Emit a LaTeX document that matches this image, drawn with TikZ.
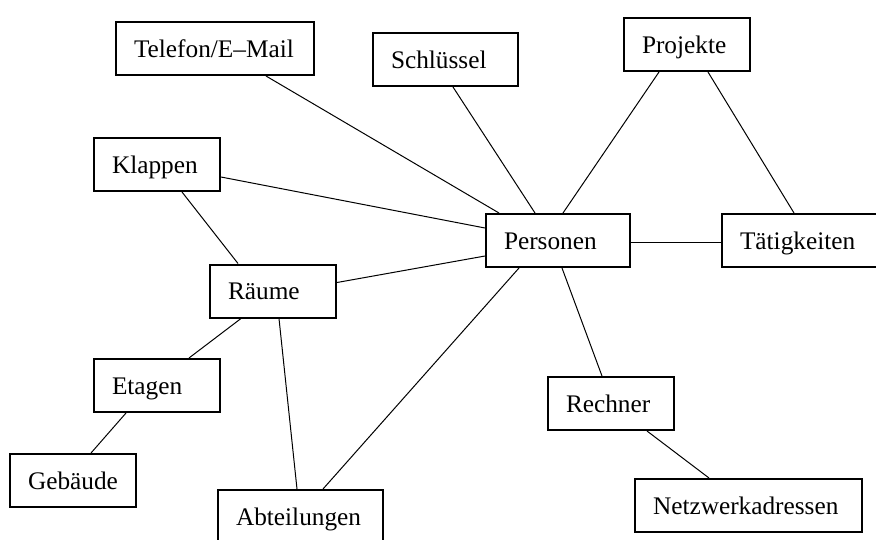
\documentclass[tikz,border=0pt]{standalone}
\usepackage{fontspec}
\setmainfont{Liberation Serif}
\usetikzlibrary{calc}
\begin{document}
\begin{tikzpicture}[x=1pt,y=-1pt,
  ent/.style={draw, line width=2pt, rectangle, minimum height=53pt, inner ysep=0pt,
    inner xsep=18pt, align=left, text height=18pt, text depth=1pt,
    font=\fontsize{25.3}{30}\selectfont},
  conn/.style={line width=1pt}]
\useasboundingbox (0,0) rectangle (876,539);
\clip (0,0) rectangle (876,539);
\fill[white] (0,0) rectangle (876,539);
\node[ent, text width=162pt] (tel) at (215,48.5) {Telefon/E--Mail};
\node[ent, text width=109pt] (sch) at (445.5,59.5) {Schlüssel};
\node[ent, text width=90pt] (pro) at (687,44.5) {Projekte};
\node[ent, text width=90pt] (kla) at (157,164.5) {Klappen};
\node[ent, text width=108pt] (per) at (558,240.5) {Personen};
\node[ent, text width=130pt] (tat) at (805,240.5) {Tätigkeiten};
\node[ent, text width=90pt] (rau) at (273,291) {Räume};
\node[ent, text width=90pt] (eta) at (157,385.5) {Etagen};
\node[ent, text width=90pt] (geb) at (73,480.5) {Gebäude};
\node[ent, text width=129pt] (abt) at (300.5,516.5) {Abteilungen};
\node[ent, text width=90pt] (rec) at (611,403.5) {Rechner};
\node[ent, text width=191pt] (net) at (748.5,505.5) {Netzwerkadressen};
\draw[conn] ($(tel.south west)+(151,0)$) -- ($(per.north west)+(14,0)$);
\draw[conn] ($(sch.south west)+(81,0)$) -- ($(per.north west)+(50,0)$);
\draw[conn] ($(pro.south west)+(36,0)$) -- ($(per.north west)+(78,0)$);
\draw[conn] ($(pro.south west)+(85,0)$) -- ($(tat.north west)+(73,0)$);
\draw[conn] ($(kla.south east)+(0,-15)$) -- ($(per.north west)+(0,15)$);
\draw[conn] ($(kla.south west)+(89,0)$) -- ($(rau.north west)+(29,0)$);
\draw[conn] ($(rau.north east)+(0,19)$) -- ($(per.north west)+(0,43)$);
\draw[conn] ($(per.north east)+(0,29)$) -- ($(tat.north west)+(0,29)$);
\draw[conn] ($(rau.south west)+(32,0)$) -- ($(eta.north west)+(96,0)$);
\draw[conn] ($(rau.south west)+(70,0)$) -- ($(abt.north west)+(80,0)$);
\draw[conn] ($(per.south west)+(34,0)$) -- ($(abt.north west)+(106,0)$);
\draw[conn] ($(per.south west)+(77,0)$) -- ($(rec.north west)+(55,0)$);
\draw[conn] ($(rec.south west)+(100,0)$) -- ($(net.north west)+(75,0)$);
\draw[conn] ($(eta.south west)+(33,0)$) -- ($(geb.north west)+(82,0)$);
\end{tikzpicture}
\end{document}
